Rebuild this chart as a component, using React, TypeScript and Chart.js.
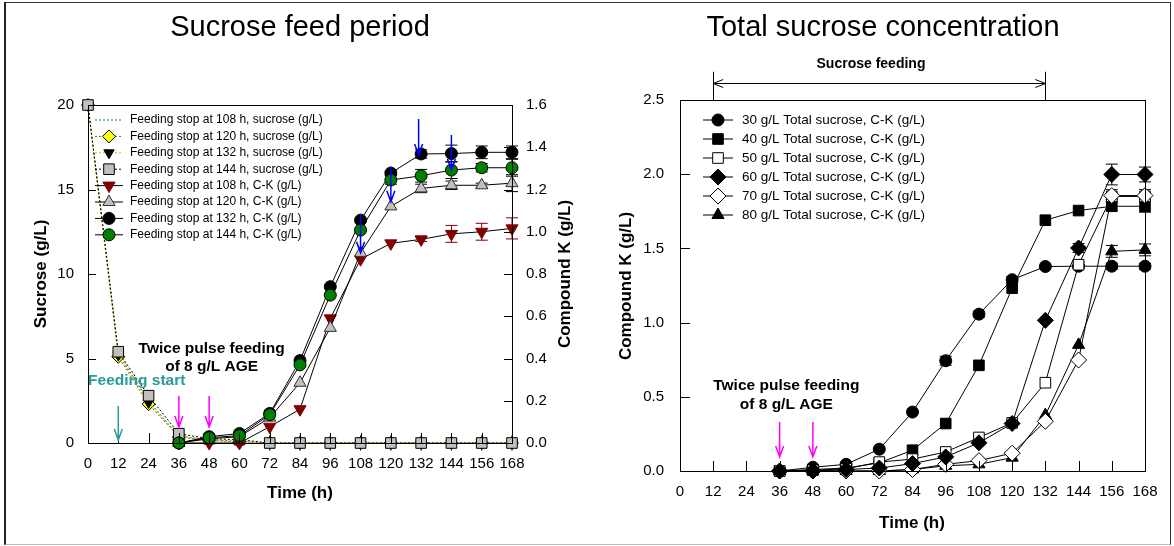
import React, { useEffect, useRef } from "react";
import { Chart, registerables } from "chart.js";
import { drawPoint } from "chart.js/helpers";

Chart.register(...registerables);

const FONT = "'Liberation Sans', Arial, Helvetica, sans-serif";

// ---------------- Left panel: Sucrose feed period ----------------
const sucroseTime = [0, 12, 24, 36, 48, 60, 72, 84, 96, 108, 120, 132, 144, 156, 168];
const sucroseStop108 = [20, 5.3, 2.5, 0.4, 0.2, 0.1, 0, 0, 0, 0, 0, 0, 0, 0, 0];
const sucroseStop120 = [20, 5.1, 2.3, 0.35, 0.15, 0.05, 0, 0, 0, 0, 0, 0, 0, 0, 0];
const sucroseStop132 = [20, 5.2, 2.4, 0.4, 0.15, 0.05, 0, 0, 0, 0, 0, 0, 0, 0, 0];
const sucroseStop144 = [20, 5.4, 2.8, 0.55, 0.25, 0.2, 0, 0, 0, 0, 0, 0, 0, 0, 0];
const sucroseStop144Err = [0, 0, 0, 0, 0, 0, 0.45, 0.45, 0.45, 0.45, 0.45, 0.45, 0.45, 0.45, 0.45];

const ckTime = [36, 48, 60, 72, 84, 96, 108, 120, 132, 144, 156, 168];
const ckStop108 = [0, 0, 0, 0.077, 0.16, 0.59, 0.87, 0.945, 0.964, 0.99, 1.0, 1.016];
const ckStop120 = [0, 0.02, 0.03, 0.12, 0.285, 0.545, 0.9, 1.12, 1.205, 1.22, 1.22, 1.23];
const ckStop132 = [0, 0.03, 0.045, 0.14, 0.39, 0.74, 1.055, 1.278, 1.368, 1.37, 1.376, 1.376];
const ckStop144 = [0, 0.025, 0.035, 0.134, 0.37, 0.7, 1.008, 1.245, 1.265, 1.292, 1.303, 1.303];
const ckStop108Err = [0, 0, 0, 0, 0, 0, 0, 0, 0.01, 0.04, 0.04, 0.05];
const ckStop120Err = [0, 0, 0, 0, 0, 0, 0, 0, 0.02, 0.02, 0.01, 0.04];
const ckStop132Err = [0, 0, 0, 0, 0, 0, 0, 0.01, 0.02, 0.04, 0.03, 0.03];
const ckStop144Err = [0, 0, 0, 0, 0, 0, 0, 0.02, 0.03, 0.04, 0.02, 0.04];

const leftLegendLabels = [
  "Feeding stop at 108 h, sucrose (g/L)",
  "Feeding stop at 120 h, sucrose (g/L)",
  "Feeding stop at 132 h, sucrose (g/L)",
  "Feeding stop at 144 h, sucrose (g/L)",
  "Feeding stop at 108 h, C-K (g/L)",
  "Feeding stop at 120 h, C-K (g/L)",
  "Feeding stop at 132 h, C-K (g/L)",
  "Feeding stop at 144 h, C-K (g/L)",
];

// ---------------- Right panel: Total sucrose concentration ----------------
const totalTime = [36, 48, 60, 72, 84, 96, 108, 120, 132, 144, 156, 168];
const ck30 = [0, 0.025, 0.045, 0.147, 0.397, 0.743, 1.057, 1.289, 1.378, 1.38, 1.38, 1.38];
const ck40 = [0, 0.01, 0.02, 0.055, 0.14, 0.32, 0.712, 1.232, 1.69, 1.755, 1.784, 1.784];
const ck50 = [0, 0.005, 0.015, 0.06, 0.08, 0.128, 0.226, 0.324, 0.595, 1.39, 1.85, 1.85];
const ck60 = [0, 0, 0.01, 0.02, 0.05, 0.095, 0.19, 0.32, 1.015, 1.503, 1.998, 1.998];
const ck70 = [0, 0, 0, 0, 0.01, 0.045, 0.07, 0.12, 0.335, 0.748, 1.856, 1.856];
const ck80 = [0, 0, 0, 0, 0.01, 0.035, 0.045, 0.09, 0.376, 0.85, 1.48, 1.49];
const ck30Err = [0, 0, 0, 0, 0, 0.03, 0.02, 0.02, 0, 0, 0.02, 0.02];
const ck40Err = [0, 0, 0, 0, 0, 0, 0, 0, 0, 0, 0.03, 0.04];
const ck50Err = [0, 0, 0, 0, 0, 0, 0, 0, 0, 0.02, 0.02, 0.02];
const ck60Err = [0, 0, 0, 0, 0, 0, 0, 0, 0, 0.03, 0.07, 0.05];
const ck70Err = [0, 0, 0, 0, 0, 0, 0, 0, 0, 0, 0.04, 0.04];
const ck80Err = [0, 0, 0, 0, 0, 0, 0, 0, 0, 0, 0.04, 0.04];

const rightLegendLabels = [
  "30 g/L Total sucrose, C-K (g/L)",
  "40 g/L Total sucrose, C-K (g/L)",
  "50 g/L Total sucrose, C-K (g/L)",
  "60 g/L Total sucrose, C-K (g/L)",
  "70 g/L Total sucrose, C-K (g/L)",
  "80 g/L Total sucrose, C-K (g/L)",
];

const pairs = (xs: number[], ys: number[]) => xs.map((x, i) => ({ x, y: ys[i] }));

function arrowDown(ctx: CanvasRenderingContext2D, x: number, y1: number, y2: number, color: string) {
  ctx.save();
  ctx.strokeStyle = color;
  ctx.lineWidth = 1.5;
  ctx.beginPath();
  ctx.moveTo(x, y1);
  ctx.lineTo(x, y2);
  ctx.moveTo(x - 4, y2 - 11);
  ctx.lineTo(x, y2);
  ctx.lineTo(x + 4, y2 - 11);
  ctx.stroke();
  ctx.restore();
}

function text(ctx: CanvasRenderingContext2D, s: string, x: number, y: number, font: string, color = "#000", align: CanvasTextAlign = "center", rot = 0) {
  ctx.save();
  ctx.font = font;
  ctx.fillStyle = color;
  ctx.textAlign = align;
  ctx.textBaseline = "middle";
  ctx.translate(x, y);
  if (rot) ctx.rotate(rot);
  ctx.fillText(s, 0, 0);
  ctx.restore();
}

type Spec = {
  title: { text: string; x: number; y: number };
  axisTitles: { text: string; x: number; y: number; rot: number }[];
  ticks: { axis: string; side: "bottom" | "left" | "right"; len: number }[];
  legend: { labels: string[]; order: number[]; y0: number; dy: number; lx1: number; lx2: number; mx: number; tx: number; font: string };
  arrows: { x: number; from: number; to: number; axis: string; color: string }[];
  notes: { text: string; x: number; y: number; axis: string; color: string; font: string }[];
  span?: { from: number; to: number; y: number; top: number; axis: string; label: string; labelX: number; labelY: number };
  cap: number;
};

function makeOverlay(spec: Spec) {
  return {
    id: "overlay",
    beforeDatasetsDraw(chart: any) {
      const ctx: CanvasRenderingContext2D = chart.ctx;
      chart.data.datasets.forEach((ds: any, i: number) => {
        if (!ds.errors) return;
        const meta = chart.getDatasetMeta(i);
        const ys = chart.scales[ds.yAxisID];
        ctx.save();
        ctx.strokeStyle = ds.errColor || "#000";
        ctx.lineWidth = 1;
        ds.data.forEach((p: any, j: number) => {
          const e = ds.errors[j];
          if (!e) return;
          const x = meta.data[j].x;
          const y1 = ys.getPixelForValue(p.y + e);
          const y2 = ys.getPixelForValue(p.y - e);
          ctx.beginPath();
          ctx.moveTo(x, y1);
          ctx.lineTo(x, y2);
          if (ds.errCap !== false) {
            ctx.moveTo(x - spec.cap, y1);
            ctx.lineTo(x + spec.cap, y1);
            ctx.moveTo(x - spec.cap, y2);
            ctx.lineTo(x + spec.cap, y2);
          }
          ctx.stroke();
        });
        ctx.restore();
      });
    },
    afterDraw(chart: any) {
      const ctx: CanvasRenderingContext2D = chart.ctx;
      const a = chart.chartArea;
      const xs = chart.scales.x;
      // frame
      ctx.save();
      ctx.strokeStyle = "#000";
      ctx.lineWidth = 1;
      ctx.strokeRect(Math.round(a.left) + 0.5, Math.round(a.top) + 0.5, Math.round(a.right - a.left), Math.round(a.bottom - a.top));
      // inside ticks
      ctx.beginPath();
      spec.ticks.forEach((t) => {
        const s = chart.scales[t.axis];
        s.ticks.forEach((tk: any) => {
          const p = Math.round(s.getPixelForValue(tk.value)) + 0.5;
          if (t.side === "bottom") {
            ctx.moveTo(p, a.bottom);
            ctx.lineTo(p, a.bottom - t.len);
          } else if (t.side === "left") {
            ctx.moveTo(a.left, p);
            ctx.lineTo(a.left + t.len, p);
          } else {
            ctx.moveTo(a.right, p);
            ctx.lineTo(a.right - t.len, p);
          }
        });
      });
      ctx.stroke();
      ctx.restore();

      // titles
      text(ctx, spec.title.text, spec.title.x, spec.title.y, `29px ${FONT}`);
      spec.axisTitles.forEach((t) => text(ctx, t.text, t.x, t.y, `bold 17px ${FONT}`, "#000", "center", t.rot));

      // legend
      const lg = spec.legend;
      lg.order.forEach((di, k) => {
        const ds = chart.data.datasets[di];
        const y = lg.y0 + k * lg.dy;
        ctx.save();
        ctx.strokeStyle = ds.borderColor;
        ctx.lineWidth = 1;
        ctx.setLineDash(ds.borderDash || []);
        ctx.beginPath();
        ctx.moveTo(lg.lx1, y);
        ctx.lineTo(lg.lx2, y);
        ctx.stroke();
        ctx.setLineDash([]);
        if (ds.pointRadius > 0) {
          ctx.fillStyle = ds.pointBackgroundColor;
          ctx.strokeStyle = ds.pointBorderColor;
          drawPoint(ctx, { pointStyle: ds.pointStyle, radius: ds.pointRadius, rotation: ds.pointRotation || 0, borderWidth: 1 } as any, lg.mx, y);
        }
        ctx.restore();
        text(ctx, lg.labels[k], lg.tx, y, lg.font, "#000", "left");
      });

      // arrows
      spec.arrows.forEach((ar) => {
        const ys = chart.scales[ar.axis];
        arrowDown(ctx, xs.getPixelForValue(ar.x), ys.getPixelForValue(ar.from), ys.getPixelForValue(ar.to), ar.color);
      });
      // notes
      spec.notes.forEach((n) => {
        const ys = chart.scales[n.axis];
        text(ctx, n.text, xs.getPixelForValue(n.x), ys.getPixelForValue(n.y), n.font, n.color);
      });
      // span arrow
      if (spec.span) {
        const sp = spec.span;
        const ys = chart.scales[sp.axis];
        const x1 = xs.getPixelForValue(sp.from);
        const x2 = xs.getPixelForValue(sp.to);
        const y = Math.round(ys.getPixelForValue(sp.y)) + 0.5;
        const yt = ys.getPixelForValue(sp.top);
        ctx.save();
        ctx.strokeStyle = "#000";
        ctx.lineWidth = 1;
        ctx.beginPath();
        ctx.moveTo(Math.round(x1) + 0.5, yt);
        ctx.lineTo(Math.round(x1) + 0.5, a.top);
        ctx.moveTo(Math.round(x2) + 0.5, yt);
        ctx.lineTo(Math.round(x2) + 0.5, a.top);
        ctx.moveTo(x1, y);
        ctx.lineTo(x2, y);
        ctx.moveTo(x1 + 10, y - 4);
        ctx.lineTo(x1, y);
        ctx.lineTo(x1 + 10, y + 4);
        ctx.moveTo(x2 - 10, y - 4);
        ctx.lineTo(x2, y);
        ctx.lineTo(x2 - 10, y + 4);
        ctx.stroke();
        ctx.restore();
        text(ctx, sp.label, xs.getPixelForValue(sp.labelX), ys.getPixelForValue(sp.labelY), `bold 14px ${FONT}`);
      }
    },
  };
}

const tickFont = { family: FONT, size: 15 };

function leftConfig(): any {
  const dsBase = { showLine: true, borderWidth: 1, pointBorderWidth: 1, clip: false as any, tension: 0 };
  const datasets: any[] = [
    // C-K series (right axis)
    { ...dsBase, label: "ck144", data: pairs(ckTime, ckStop144), yAxisID: "yR", borderColor: "#000", pointStyle: "circle", pointRadius: 6, pointBackgroundColor: "#008000", pointBorderColor: "#000", errors: ckStop144Err, order: 0 },
    { ...dsBase, label: "ck132", data: pairs(ckTime, ckStop132), yAxisID: "yR", borderColor: "#000", pointStyle: "circle", pointRadius: 6, pointBackgroundColor: "#000", pointBorderColor: "#000", errors: ckStop132Err, order: 1 },
    { ...dsBase, label: "ck120", data: pairs(ckTime, ckStop120), yAxisID: "yR", borderColor: "#000", pointStyle: "triangle", pointRadius: 7, pointBackgroundColor: "#c0c0c0", pointBorderColor: "#303030", errors: ckStop120Err, order: 2 },
    { ...dsBase, label: "ck108", data: pairs(ckTime, ckStop108), yAxisID: "yR", borderColor: "#000", pointStyle: "triangle", pointRotation: 180, pointRadius: 7, pointBackgroundColor: "#800000", pointBorderColor: "#800000", errors: ckStop108Err, errColor: "#800000", order: 3 },
    // Sucrose series (left axis)
    { ...dsBase, label: "s144", data: pairs(sucroseTime, sucroseStop144), yAxisID: "yL", borderColor: "#000", borderDash: [2, 2], pointStyle: "rect", pointRadius: 7.5, pointBackgroundColor: "#c0c0c0", pointBorderColor: "#000", errors: sucroseStop144Err, errCap: false, order: 4 },
    { ...dsBase, label: "s132", data: pairs(sucroseTime, sucroseStop132), yAxisID: "yL", borderColor: "#c8c000", borderDash: [2, 2], pointStyle: "triangle", pointRotation: 180, pointRadius: 6, pointBackgroundColor: "#000", pointBorderColor: "#000", order: 5 },
    { ...dsBase, label: "s120", data: pairs(sucroseTime, sucroseStop120), yAxisID: "yL", borderColor: "#6b6b00", borderDash: [2, 2], pointStyle: "rectRot", pointRadius: 6.5, pointBackgroundColor: "#ffff00", pointBorderColor: "#000", order: 6 },
    { ...dsBase, label: "s108", data: pairs(sucroseTime, sucroseStop108), yAxisID: "yL", borderColor: "#1f7a1f", borderDash: [2, 2], pointStyle: "circle", pointRadius: 0, pointBackgroundColor: "#000", pointBorderColor: "#000", order: 7 },
  ];
  const spec: Spec = {
    title: { text: "Sucrose feed period", x: 300, y: 28 },
    axisTitles: [
      { text: "Sucrose (g/L)", x: 41, y: 274, rot: -Math.PI / 2 },
      { text: "Compound K (g/L)", x: 565, y: 274, rot: -Math.PI / 2 },
      { text: "Time (h)", x: 300, y: 493, rot: 0 },
    ],
    ticks: [
      { axis: "x", side: "bottom", len: 10 },
      { axis: "yL", side: "left", len: 8 },
      { axis: "yR", side: "right", len: 8 },
    ],
    legend: { labels: leftLegendLabels, order: [7, 6, 5, 4, 3, 2, 1, 0], y0: 120, dy: 16.4, lx1: 95, lx2: 123, mx: 109, tx: 130, font: `12px ${FONT}` },
    arrows: [
      { x: 12, from: 0.175, to: 0.014, axis: "yR", color: "#2a9a9a" },
      { x: 36, from: 0.222, to: 0.076, axis: "yR", color: "#ff00ff" },
      { x: 48, from: 0.222, to: 0.076, axis: "yR", color: "#ff00ff" },
      { x: 108, from: 1.08, to: 0.9, axis: "yR", color: "#0000ff" },
      { x: 120, from: 1.308, to: 1.142, axis: "yR", color: "#0000ff" },
      { x: 131, from: 1.534, to: 1.363, axis: "yR", color: "#0000ff" },
      { x: 144, from: 1.458, to: 1.292, axis: "yR", color: "#0000ff" },
    ],
    notes: [
      { text: "Twice pulse feeding", x: 49, y: 0.445, axis: "yR", color: "#000", font: `bold 15.5px ${FONT}` },
      { text: "of 8 g/L AGE", x: 49, y: 0.36, axis: "yR", color: "#000", font: `bold 15.5px ${FONT}` },
      { text: "Feeding start", x: 19.3, y: 0.293, axis: "yR", color: "#2a9a9a", font: `bold 15.5px ${FONT}` },
    ],
    cap: 6,
  };
  return {
    type: "scatter",
    data: { datasets },
    options: {
      responsive: false,
      animation: false,
      layout: { padding: { top: 105, left: 0, right: 0, bottom: 0 } },
      plugins: { legend: { display: false }, tooltip: { enabled: false }, title: { display: false } },
      scales: {
        x: {
          type: "linear", min: 0, max: 168,
          grid: { display: false }, border: { display: false },
          ticks: { stepSize: 12, color: "#000", font: tickFont, padding: 4, maxRotation: 0, autoSkip: false },
          afterFit: (s: any) => { s.height = 103; },
        },
        yL: {
          type: "linear", position: "left", min: 0, max: 20,
          grid: { display: false }, border: { display: false },
          ticks: { stepSize: 5, color: "#000", font: tickFont, padding: 6 },
          afterFit: (s: any) => { s.width = 88; },
        },
        yR: {
          type: "linear", position: "right", min: 0, max: 1.6,
          grid: { display: false }, border: { display: false },
          ticks: { stepSize: 0.2, color: "#000", font: tickFont, padding: 6, callback: (v: any) => Number(v).toFixed(1) },
          afterFit: (s: any) => { s.width = 88; },
        },
      },
    },
    plugins: [makeOverlay(spec)],
  };
}

function rightConfig(): any {
  const dsBase = { showLine: true, borderWidth: 1, pointBorderWidth: 1, clip: false as any, tension: 0, yAxisID: "y", borderColor: "#000", pointBorderColor: "#000" };
  const datasets: any[] = [
    { ...dsBase, label: "30", data: pairs(totalTime, ck30), pointStyle: "circle", pointRadius: 6, pointBackgroundColor: "#000", errors: ck30Err, order: 3 },
    { ...dsBase, label: "40", data: pairs(totalTime, ck40), pointStyle: "rect", pointRadius: 7.5, pointBackgroundColor: "#000", errors: ck40Err, order: 4 },
    { ...dsBase, label: "50", data: pairs(totalTime, ck50), pointStyle: "rect", pointRadius: 7.5, pointBackgroundColor: "#fff", errors: ck50Err, order: 2 },
    { ...dsBase, label: "60", data: pairs(totalTime, ck60), pointStyle: "rectRot", pointRadius: 8, pointBackgroundColor: "#000", errors: ck60Err, order: 0 },
    { ...dsBase, label: "70", data: pairs(totalTime, ck70), pointStyle: "rectRot", pointRadius: 8, pointBackgroundColor: "#fff", errors: ck70Err, order: 1 },
    { ...dsBase, label: "80", data: pairs(totalTime, ck80), pointStyle: "triangle", pointRadius: 7, pointBackgroundColor: "#000", errors: ck80Err, order: 5 },
  ];
  const spec: Spec = {
    title: { text: "Total sucrose concentration", x: 283, y: 28 },
    axisTitles: [
      { text: "Compound K (g/L)", x: 26, y: 286, rot: -Math.PI / 2 },
      { text: "Time (h)", x: 312, y: 523, rot: 0 },
    ],
    ticks: [
      { axis: "x", side: "bottom", len: 10 },
      { axis: "y", side: "left", len: 10 },
    ],
    legend: { labels: rightLegendLabels, order: [0, 1, 2, 3, 4, 5], y0: 120, dy: 19, lx1: 103, lx2: 133, mx: 118, tx: 142, font: `13.5px ${FONT}` },
    arrows: [
      { x: 36, from: 0.331, to: 0.095, axis: "y", color: "#ff00ff" },
      { x: 48, from: 0.331, to: 0.095, axis: "y", color: "#ff00ff" },
    ],
    notes: [
      { text: "Twice pulse feeding", x: 38.4, y: 0.572, axis: "y", color: "#000", font: `bold 15.5px ${FONT}` },
      { text: "of 8 g/L AGE", x: 38.4, y: 0.449, axis: "y", color: "#000", font: `bold 15.5px ${FONT}` },
    ],
    span: { from: 12, to: 132, y: 2.613, top: 2.69, axis: "y", label: "Sucrose feeding", labelX: 69, labelY: 2.741 },
    cap: 6,
  };
  return {
    type: "scatter",
    data: { datasets },
    options: {
      responsive: false,
      animation: false,
      layout: { padding: { top: 100, left: 0, right: 29, bottom: 0 } },
      plugins: { legend: { display: false }, tooltip: { enabled: false }, title: { display: false } },
      scales: {
        x: {
          type: "linear", min: 0, max: 168,
          grid: { display: false }, border: { display: false },
          ticks: { stepSize: 12, color: "#000", font: tickFont, padding: 4, maxRotation: 0, autoSkip: false },
          afterFit: (s: any) => { s.height = 75; },
        },
        y: {
          type: "linear", position: "left", min: 0, max: 2.5,
          grid: { display: false }, border: { display: false },
          ticks: { stepSize: 0.5, color: "#000", font: tickFont, padding: 8, callback: (v: any) => Number(v).toFixed(1) },
          afterFit: (s: any) => { s.width = 80; },
        },
      },
    },
    plugins: [makeOverlay(spec)],
  };
}

export default function App() {
  const leftRef = useRef<HTMLCanvasElement>(null);
  const rightRef = useRef<HTMLCanvasElement>(null);
  useEffect(() => {
    const c1 = new Chart(leftRef.current as HTMLCanvasElement, leftConfig());
    const c2 = new Chart(rightRef.current as HTMLCanvasElement, rightConfig());
    return () => {
      c1.destroy();
      c2.destroy();
    };
  }, []);
  return (
    <div style={{ position: "relative", width: 1174, height: 546, background: "#fff", overflow: "hidden" }}>
      <style>{"body{margin:0;}"}</style>
      <canvas ref={leftRef} width={600} height={546} style={{ position: "absolute", left: 0, top: 0, width: 600, height: 546 }} />
      <canvas ref={rightRef} width={574} height={546} style={{ position: "absolute", left: 600, top: 0, width: 574, height: 546 }} />
      <div
        style={{
          position: "absolute", left: 4, top: 2, width: 1167, height: 543,
          borderTop: "1px solid #333", borderRight: "1px solid #333", borderBottom: "1px solid #bbb", borderLeft: "2px solid #222",
          boxSizing: "border-box", pointerEvents: "none",
        }}
      />
    </div>
  );
}
